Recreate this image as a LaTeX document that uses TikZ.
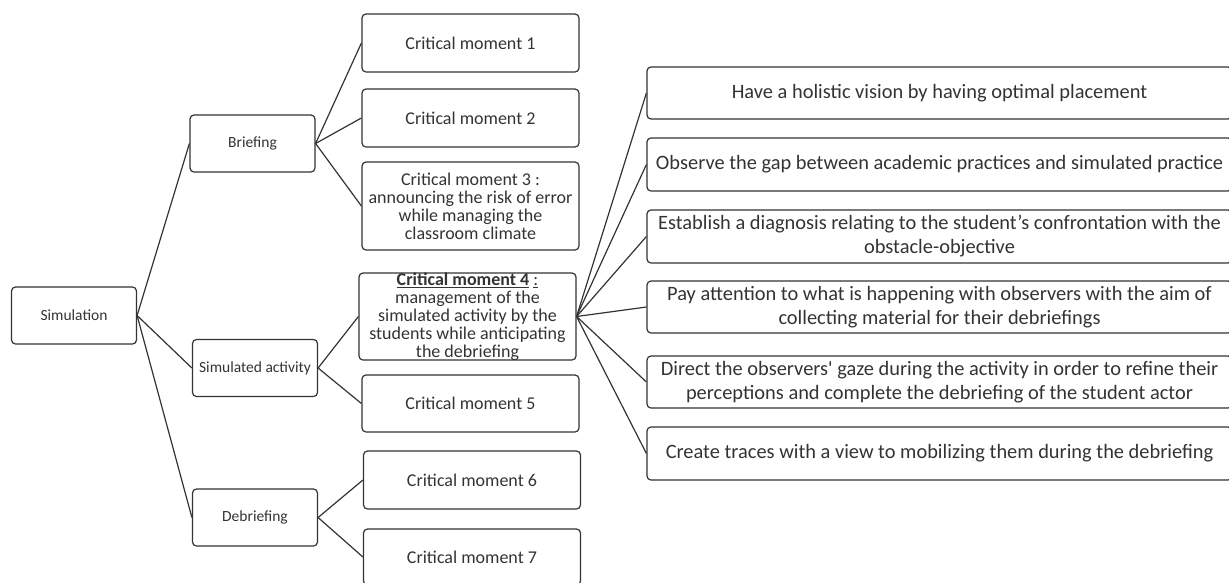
\documentclass[tikz,border=0pt]{standalone}
\usepackage{fontspec}
\setmainfont{Carlito}
\usepackage{tikz}
\usetikzlibrary{math}
\usetikzlibrary{positioning}

\begin{document}
\begin{tikzpicture}[x=1pt,y=-1pt,line width=1.2pt,
  box/.style={draw=black!80, rounded corners=4pt, inner sep=0pt, text=black!80, align=center},
  phase/.style={box, minimum width=125pt, minimum height=57pt, font=\fontsize{15.5}{18}\selectfont},
  moment/.style={box, minimum width=217pt, minimum height=58pt, font=\fontsize{18}{18}\selectfont},
  task/.style={box, minimum width=585pt, minimum height=52pt, font=\fontsize{20.4}{24}\selectfont}]

  \tikzmath{
    \colA = 74;    % centre of the root column
    \colB = 255;   % centre of the phase column
    \colC = 470.5; % centre of the moment column
    \colD = 939.5; % centre of the task column
  }

  \useasboundingbox (0,0) rectangle (1229,582);

  % root and phases
  \node[phase] (sim) at (\colA, 315.5) {Simulation};
  \node[phase] (brief) at (\colB-2.5, 143.5) {Briefing};
  \node[phase] (act) at (\colB, 368) {Simulated activity};
  \node[phase] (debrief) at (\colB, 517.5) {Debriefing};

  % critical moments
  \node[moment] (cm1) at (\colC, 43) {Critical moment 1};
  \node[moment] (cm2) at (\colC, 118) {Critical moment 2};
  \node[moment, minimum height=88pt] (cm3) at (\colC, 206)
    {Critical moment 3 :\\announcing the risk of error\\while managing the\\classroom climate};
  \node[moment, minimum height=87pt, inner ysep=-1pt] (cm4) at (\colC-3, 316.5)
    {\underline{\textbf{Critical moment 4}}~\underline{:}\\management of the\\simulated activity by the\\students while anticipating\\the debriefing};
  \node[moment, minimum height=57pt] (cm5) at (\colC, 403.5) {Critical moment 5};
  \node[moment] (cm6) at (\colC+1.5, 480) {Critical moment 6};
  \node[moment, minimum height=56pt] (cm7) at (\colC+1.5, 557) {Critical moment 7};

  % tasks of critical moment 4
  \node[task] (t1) at (\colD, 93) {Have a holistic vision by having optimal placement};
  \node[task, minimum height=53pt] (t2) at (\colD, 164.5) {Observe the gap between academic practices and simulated practice};
  \node[task, minimum height=53pt] (t3) at (\colD, 236.5)
    {Establish a diagnosis relating to the student’s confrontation with the\\obstacle-objective};
  \node[task] (t4) at (\colD, 307)
    {Pay attention to what is happening with observers with the aim of\\collecting material for their debriefings};
  \node[task] (t5) at (\colD, 382)
    {Direct the observers\textquotesingle{} gaze during the activity in order to refine their\\perceptions and complete the debriefing of the student actor};
  \node[task, minimum height=53pt] (t6) at (\colD, 453.5) {Create traces with a view to mobilizing them during the debriefing};

  % connectors
  \draw[black!80] (sim.east) -- (brief.west);
  \draw[black!80] (sim.east) -- (act.west);
  \draw[black!80] (sim.east) -- (debrief.west);

  \draw[black!80] (brief.east) -- (cm1.west);
  \draw[black!80] (brief.east) -- (cm2.west);
  \draw[black!80] (brief.east) -- (cm3.west);

  \draw[black!80] (act.east) -- (cm4.west);
  \draw[black!80] (act.east) -- (cm5.west);

  \draw[black!80] (debrief.east) -- (cm6.west);
  \draw[black!80] (debrief.east) -- (cm7.west);

  \draw[black!80] (cm4.east) -- (t1.west);
  \draw[black!80] (cm4.east) -- (t2.west);
  \draw[black!80] (cm4.east) -- (t3.west);
  \draw[black!80] (cm4.east) -- (t4.west);
  \draw[black!80] (cm4.east) -- (t5.west);
  \draw[black!80] (cm4.east) -- (t6.west);

\end{tikzpicture}
\end{document}
